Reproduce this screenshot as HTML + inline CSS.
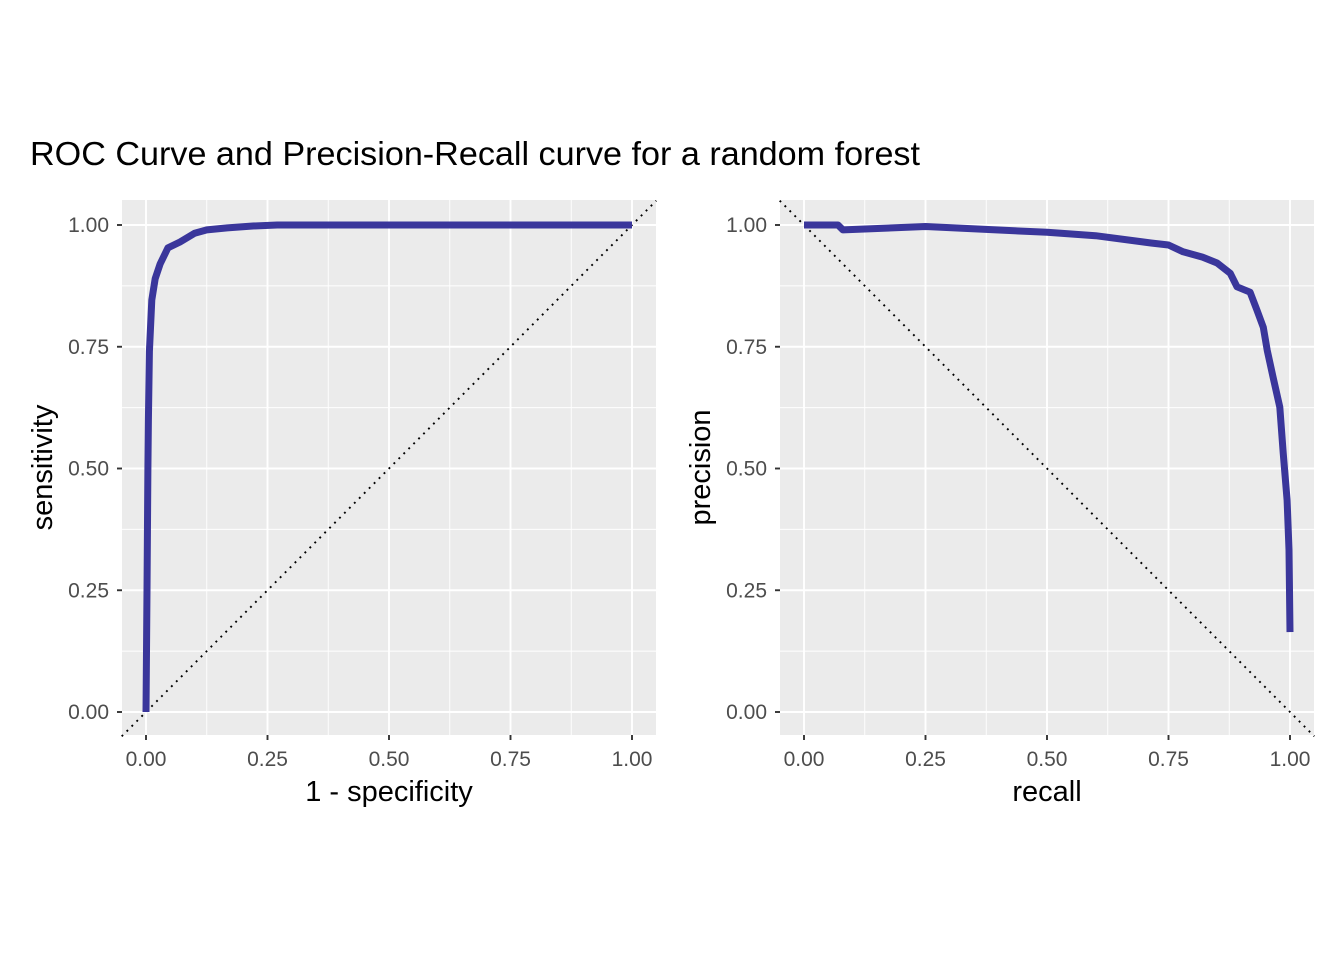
<!DOCTYPE html>
<html><head><meta charset="utf-8"><style>
html,body{margin:0;padding:0;background:#fff;}
svg{display:block;font-family:"Liberation Sans",Arial,sans-serif;}
</style></head><body>
<svg id="chart" width="1344" height="960" viewBox="0 0 1344 960">
<rect width="1344" height="960" fill="#fff"/>
<text x="30" y="165" font-size="33" fill="#000" textLength="890" lengthAdjust="spacingAndGlyphs">ROC Curve and Precision-Recall curve for a random forest</text>
<g id="left"></g>
<g id="right"></g>
</svg>
<script>
const ticks=[0,0.25,0.5,0.75,1];
const tickLabels=["0.00","0.25","0.50","0.75","1.00"];
const rocFpr=[0,0.002,0.004,0.005,0.007,0.012,0.019,0.029,0.045,0.07,0.10,0.125,0.167,0.22,0.27,1];
const rocTpr=[0,0.25,0.5,0.6,0.74,0.846,0.89,0.92,0.953,0.965,0.983,0.99,0.994,0.998,1,1];
const prRecall=[0,0.07,0.08,0.25,0.5,0.6,0.714,0.75,0.78,0.82,0.85,0.877,0.891,0.918,0.932,0.945,0.953,0.965,0.979,0.986,0.994,0.998,1];
const prPrecision=[1,1,0.99,0.997,0.985,0.978,0.963,0.959,0.945,0.934,0.922,0.901,0.873,0.862,0.825,0.79,0.743,0.688,0.626,0.532,0.435,0.333,0.164];
const NS="http://www.w3.org/2000/svg";
function mk(p,tag,at){const e=document.createElementNS(NS,tag);for(const k in at)e.setAttribute(k,at[k]);p.appendChild(e);return e;}
function panel(g,x0,xt,yt,xs,ys,diag,nm){
  const L=x0,R=x0+534,T=200,B=735;
  const sx=v=>L+24+486*v, sy=v=>712-487*v;
  const bg=mk(g,'rect',{x:L,y:T,width:R-L,height:B-T,fill:'#EBEBEB'});
  
  
  [0.125,0.375,0.625,0.875].forEach(v=>{
    mk(g,'line',{x1:sx(v),x2:sx(v),y1:T,y2:B,stroke:'#fff','stroke-width':0.9});
    mk(g,'line',{x1:L,x2:R,y1:sy(v),y2:sy(v),stroke:'#fff','stroke-width':0.9});
  });
  ticks.forEach((v,i)=>{
    mk(g,'line',{x1:sx(v),x2:sx(v),y1:T,y2:B,stroke:'#fff','stroke-width':1.9});
    mk(g,'line',{x1:L,x2:R,y1:sy(v),y2:sy(v),stroke:'#fff','stroke-width':1.9});
    mk(g,'line',{x1:sx(v),x2:sx(v),y1:B,y2:B+5,stroke:'#333','stroke-width':1.9});
    mk(g,'line',{x1:L-5,x2:L,y1:sy(v),y2:sy(v),stroke:'#333','stroke-width':1.9});
    const tx=mk(g,'text',{x:sx(v),y:B+31,'font-size':21,fill:'#4D4D4D','text-anchor':'middle'});tx.textContent=tickLabels[i];
    
    
    const ty=mk(g,'text',{x:L-13,y:sy(v)+7,'font-size':21,fill:'#4D4D4D','text-anchor':'end'});ty.textContent=tickLabels[i];
    
    
  });
  const d=diag?[[-0.05,-0.05],[1.05,1.05]]:[[-0.05,1.05],[1.05,-0.05]];
  const dl=mk(g,'line',{x1:sx(d[0][0]),y1:sy(d[0][1]),x2:sx(d[1][0]),y2:sy(d[1][1]),stroke:'#000','stroke-width':1.9,'stroke-dasharray':'1.9 5.1'});
  
  
  const pts=xs.map((x,i)=>sx(x).toFixed(1)+','+sy(ys[i]).toFixed(1)).join(' ');
  const pl=mk(g,'polyline',{points:pts,fill:'none',stroke:'#3A369B','stroke-width':7,'stroke-linejoin':'round'});
  
  
  const xl=mk(g,'text',{x:(L+R)/2,y:801,'font-size':29,fill:'#000','text-anchor':'middle'});xl.textContent=xt;
  
  
  const yx=x0-70;
  const yl=mk(g,'text',{x:yx,y:(T+B)/2,'font-size':29,fill:'#000','text-anchor':'middle',transform:`rotate(-90 ${yx} ${(T+B)/2})`});yl.textContent=yt;
  
  
}
panel(document.getElementById('left'),122,'1 - specificity','sensitivity',rocFpr,rocTpr,true,'roc');
panel(document.getElementById('right'),780,'recall','precision',prRecall,prPrecision,false,'pr');
</script>
</body></html>
